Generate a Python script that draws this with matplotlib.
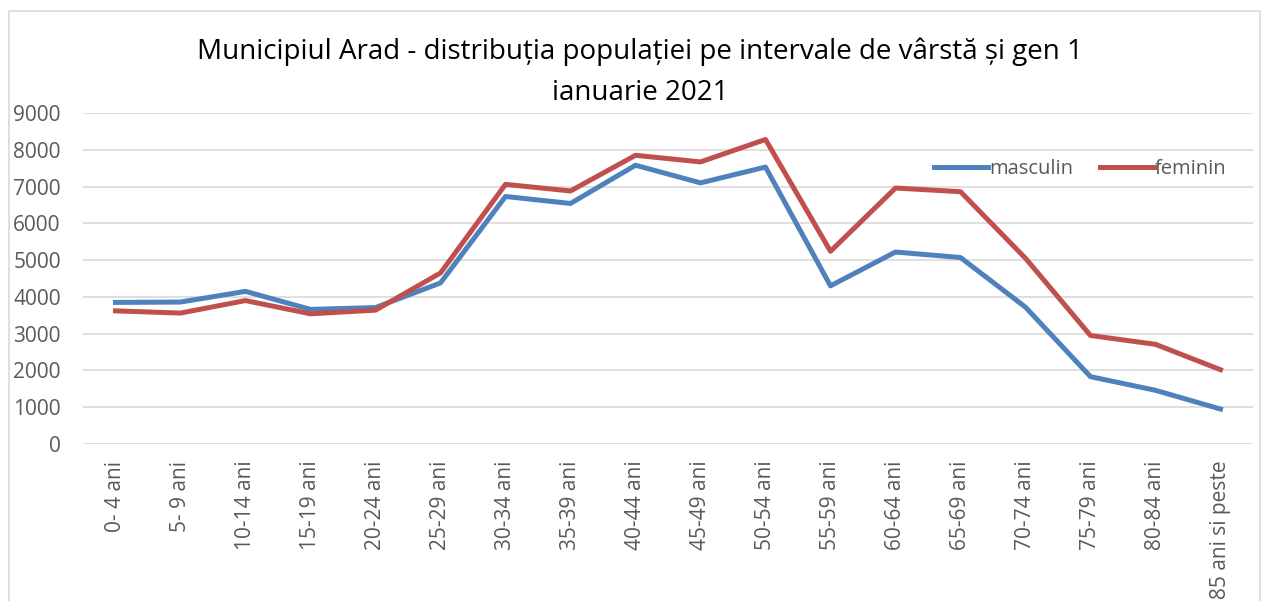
import matplotlib
matplotlib.use("Agg")
import matplotlib.pyplot as plt
from matplotlib.patches import Rectangle

# age groups and population by sex, 1 Jan 2021
categories = ["0- 4 ani", "5- 9 ani", "10-14 ani", "15-19 ani", "20-24 ani", "25-29 ani",
              "30-34 ani", "35-39 ani", "40-44 ani", "45-49 ani", "50-54 ani", "55-59 ani",
              "60-64 ani", "65-69 ani", "70-74 ani", "75-79 ani", "80-84 ani", "85 ani si peste"]
masculin = [3850, 3860, 4150, 3660, 3710, 4380, 6730, 6540, 7580, 7100, 7530, 4300,
            5220, 5070, 3720, 1830, 1460, 950]
feminin = [3620, 3560, 3900, 3540, 3640, 4650, 7060, 6880, 7850, 7670, 8280, 5240,
           6960, 6860, 5050, 2950, 2710, 2020]
yticks = list(range(0, 9001, 1000))

TEXT = "#595959"
plt.rcParams["font.family"] = ["Open Sans", "DejaVu Sans"]

fig = plt.figure(figsize=(12.72, 6.01), dpi=100)
# chart frame
fig.patches.append(Rectangle((9 / 1272, -0.05), 1251 / 1272, 1 - 11 / 601 + 0.05,
                             transform=fig.transFigure, fill=False,
                             edgecolor="#D9D9D9", linewidth=1.2))

ax = fig.add_axes([83 / 1272, 1 - 444 / 601, 1170 / 1272, 331 / 601])
x = list(range(len(categories)))
ax.plot(x, masculin, color="#4F81BD", linewidth=3.6, label="masculin", solid_joinstyle="round")
ax.plot(x, feminin, color="#C0504D", linewidth=3.6, label="feminin", solid_joinstyle="round")

ax.set_xlim(-0.5, len(categories) - 0.5)
ax.set_ylim(0, 9000)
ax.set_yticks(yticks)
ax.set_xticks(x)
ax.set_xticklabels(categories, rotation=90, fontsize=15, color=TEXT)
ax.tick_params(axis="y", labelsize=15, labelcolor=TEXT, length=0, pad=16)
ax.tick_params(axis="x", length=0, pad=12)
ax.grid(axis="y", color="#D9D9D9", linewidth=1.2)
ax.set_axisbelow(True)
for s in ax.spines.values():
    s.set_visible(False)

leg = ax.legend(loc="upper right", bbox_to_anchor=(0.993, 0.915), ncol=2, frameon=False,
                fontsize=14.5, handlelength=2.7, handletextpad=0.05, columnspacing=1.3)
for t in leg.get_texts():
    t.set_color(TEXT)

fig.text(0.503, 1 - 52 / 601, "Municipiul Arad - distribuția populației pe intervale de vârstă și gen 1",
         ha="center", va="center", fontsize=20, color="#000000")
fig.text(0.503, 1 - 93 / 601, "ianuarie 2021", ha="center", va="center", fontsize=20, color="#000000")

fig.savefig("out.png", dpi=100)
